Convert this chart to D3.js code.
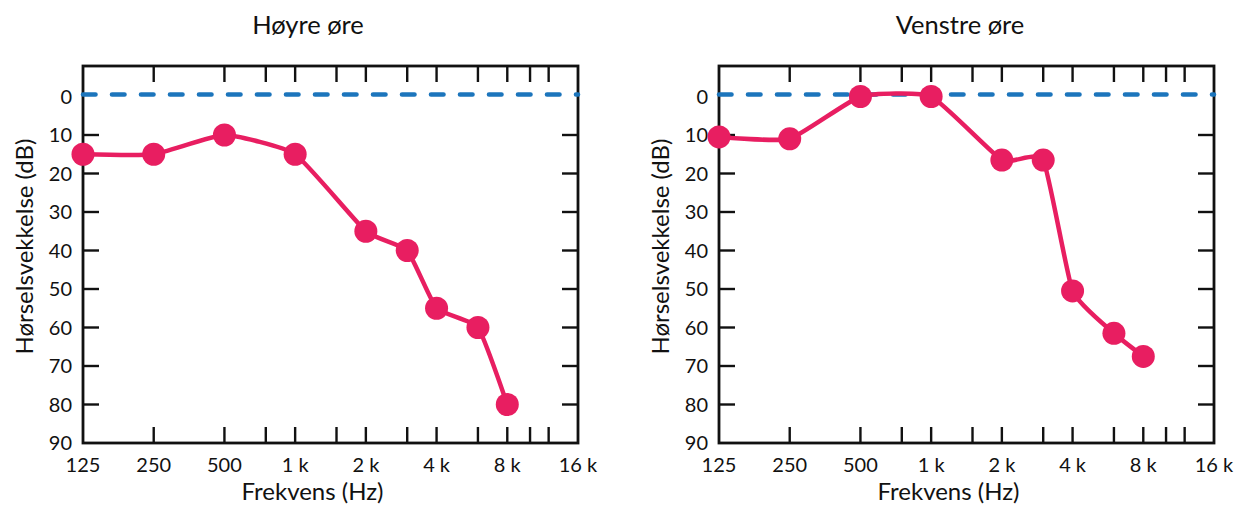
<!DOCTYPE html>
<html>
<head>
<meta charset="utf-8">
<script src="https://cdn.jsdelivr.net/npm/d3@7"></script>
<style>
  html, body { margin: 0; padding: 0; background: #fff; }
  svg { display: block; }
  text { font-family: Lato, "Open Sans", sans-serif; fill: #111; }
</style>
</head>
<body>
<svg id="chart" width="1235" height="506"></svg>
<script>
// ---- data ----
const frequencies = [125, 250, 500, 1000, 2000, 3000, 4000, 6000, 8000];
const rightEarValues = [15, 15, 10, 15, 35, 40, 55, 60, 80];       // Høyre øre
const leftEarValues  = [10.5, 11, 0, 0, 16.5, 16.5, 50.5, 61.5, 67.5]; // Venstre øre
const panelTitles = ["Høyre øre", "Venstre øre"];
const xTickLabelValues = [125, 250, 500, 1000, 2000, 4000, 8000, 16000];
const xTickLabels = ["125", "250", "500", "1 k", "2 k", "4 k", "8 k", "16 k"];
const xMinorTicks = [250, 500, 750, 1000, 1500, 2000, 3000, 4000, 6000, 8000, 10000, 12000];
const yTickValues = [0, 10, 20, 30, 40, 50, 60, 70, 80, 90];
const yInnerTicks = [10, 20, 30, 40, 50, 60, 70, 80];
const referenceLevel = [0];
const xAxisTitle = "Frekvens (Hz)";
const yAxisTitle = "Hørselsvekkelse (dB)";

// ---- layout ----
const panels = [
  { left: 83, right: 578, titleX: 308, values: rightEarValues, title: panelTitles[0] },
  { left: 719, right: 1214, titleX: 960, values: leftEarValues, title: panelTitles[1] }
];
const plotTop = 66, plotBottom = 443;
const pink = "#E81E61", blue = "#1C75BC";
const tickLen = 16;

const svg = d3.select("#chart");

panels.forEach(p => {
  const x = d3.scaleLog().base(2).domain([125, 16000]).range([p.left, p.right]);
  const y = d3.scaleLinear().domain([0, 90]).range([96.5, plotBottom]);
  const g = svg.append("g");

  // frame
  g.append("rect")
    .attr("x", p.left).attr("y", plotTop)
    .attr("width", p.right - p.left).attr("height", plotBottom - plotTop)
    .attr("fill", "none").attr("stroke", "#111").attr("stroke-width", 2.8);

  // x ticks (bottom & top, inward)
  g.selectAll(".xb").data(xMinorTicks).join("line")
    .attr("x1", d => x(d)).attr("x2", d => x(d))
    .attr("y1", plotBottom).attr("y2", plotBottom - tickLen)
    .attr("stroke", "#111").attr("stroke-width", 2.4);
  g.selectAll(".xt").data(xMinorTicks).join("line")
    .attr("x1", d => x(d)).attr("x2", d => x(d))
    .attr("y1", plotTop).attr("y2", plotTop + tickLen)
    .attr("stroke", "#111").attr("stroke-width", 2.4);

  // y ticks (left & right, inward)
  g.selectAll(".yl").data(yInnerTicks).join("line")
    .attr("x1", p.left).attr("x2", p.left + tickLen)
    .attr("y1", d => y(d)).attr("y2", d => y(d))
    .attr("stroke", "#111").attr("stroke-width", 2.4);
  g.selectAll(".yr").data(yInnerTicks).join("line")
    .attr("x1", p.right).attr("x2", p.right - tickLen)
    .attr("y1", d => y(d)).attr("y2", d => y(d))
    .attr("stroke", "#111").attr("stroke-width", 2.4);

  // tick labels
  g.selectAll(".ylab").data(yTickValues).join("text")
    .attr("x", p.left - 11).attr("y", d => y(d))
    .attr("dy", "0.35em").attr("text-anchor", "end")
    .attr("font-size", 20).text(d => d);
  g.selectAll(".xlab").data(xTickLabelValues).join("text")
    .attr("x", d => x(d)).attr("y", 472)
    .attr("text-anchor", "middle")
    .attr("font-size", 20).text((d, i) => xTickLabels[i]);

  // axis titles
  g.append("text")
    .attr("x", (p.left + p.right) / 2 - 18).attr("y", 500)
    .attr("text-anchor", "middle").attr("font-size", 24).text(xAxisTitle);
  g.append("text")
    .attr("transform", `translate(${p.left - 50},${(plotTop + plotBottom) / 2 - 8}) rotate(-90)`)
    .attr("text-anchor", "middle").attr("font-size", 24).text(yAxisTitle);

  // panel title
  g.append("text")
    .attr("x", p.titleX).attr("y", 34)
    .attr("text-anchor", "middle").attr("font-size", 25.5).text(p.title);

  // reference dashed line
  g.selectAll(".ref").data(referenceLevel).join("line")
    .attr("x1", p.left).attr("x2", p.right)
    .attr("y1", d => y(d) - 2).attr("y2", d => y(d) - 2)
    .attr("stroke", blue).attr("stroke-width", 4.6)
    .attr("stroke-linecap", "round")
    .attr("stroke-dasharray", "12.5 16.5");

  // curve
  const pts = frequencies.map((f, i) => [f, p.values[i]]);
  const line = d3.line().x(d => x(d[0])).y(d => y(d[1])).curve(d3.curveCardinal.tension(0.55));
  g.append("path").attr("d", line(pts))
    .attr("fill", "none").attr("stroke", pink).attr("stroke-width", 4.5);

  g.selectAll(".dot").data(pts).join("circle")
    .attr("cx", d => x(d[0])).attr("cy", d => y(d[1]))
    .attr("r", 11.5).attr("fill", pink);
});
</script>
</body>
</html>
